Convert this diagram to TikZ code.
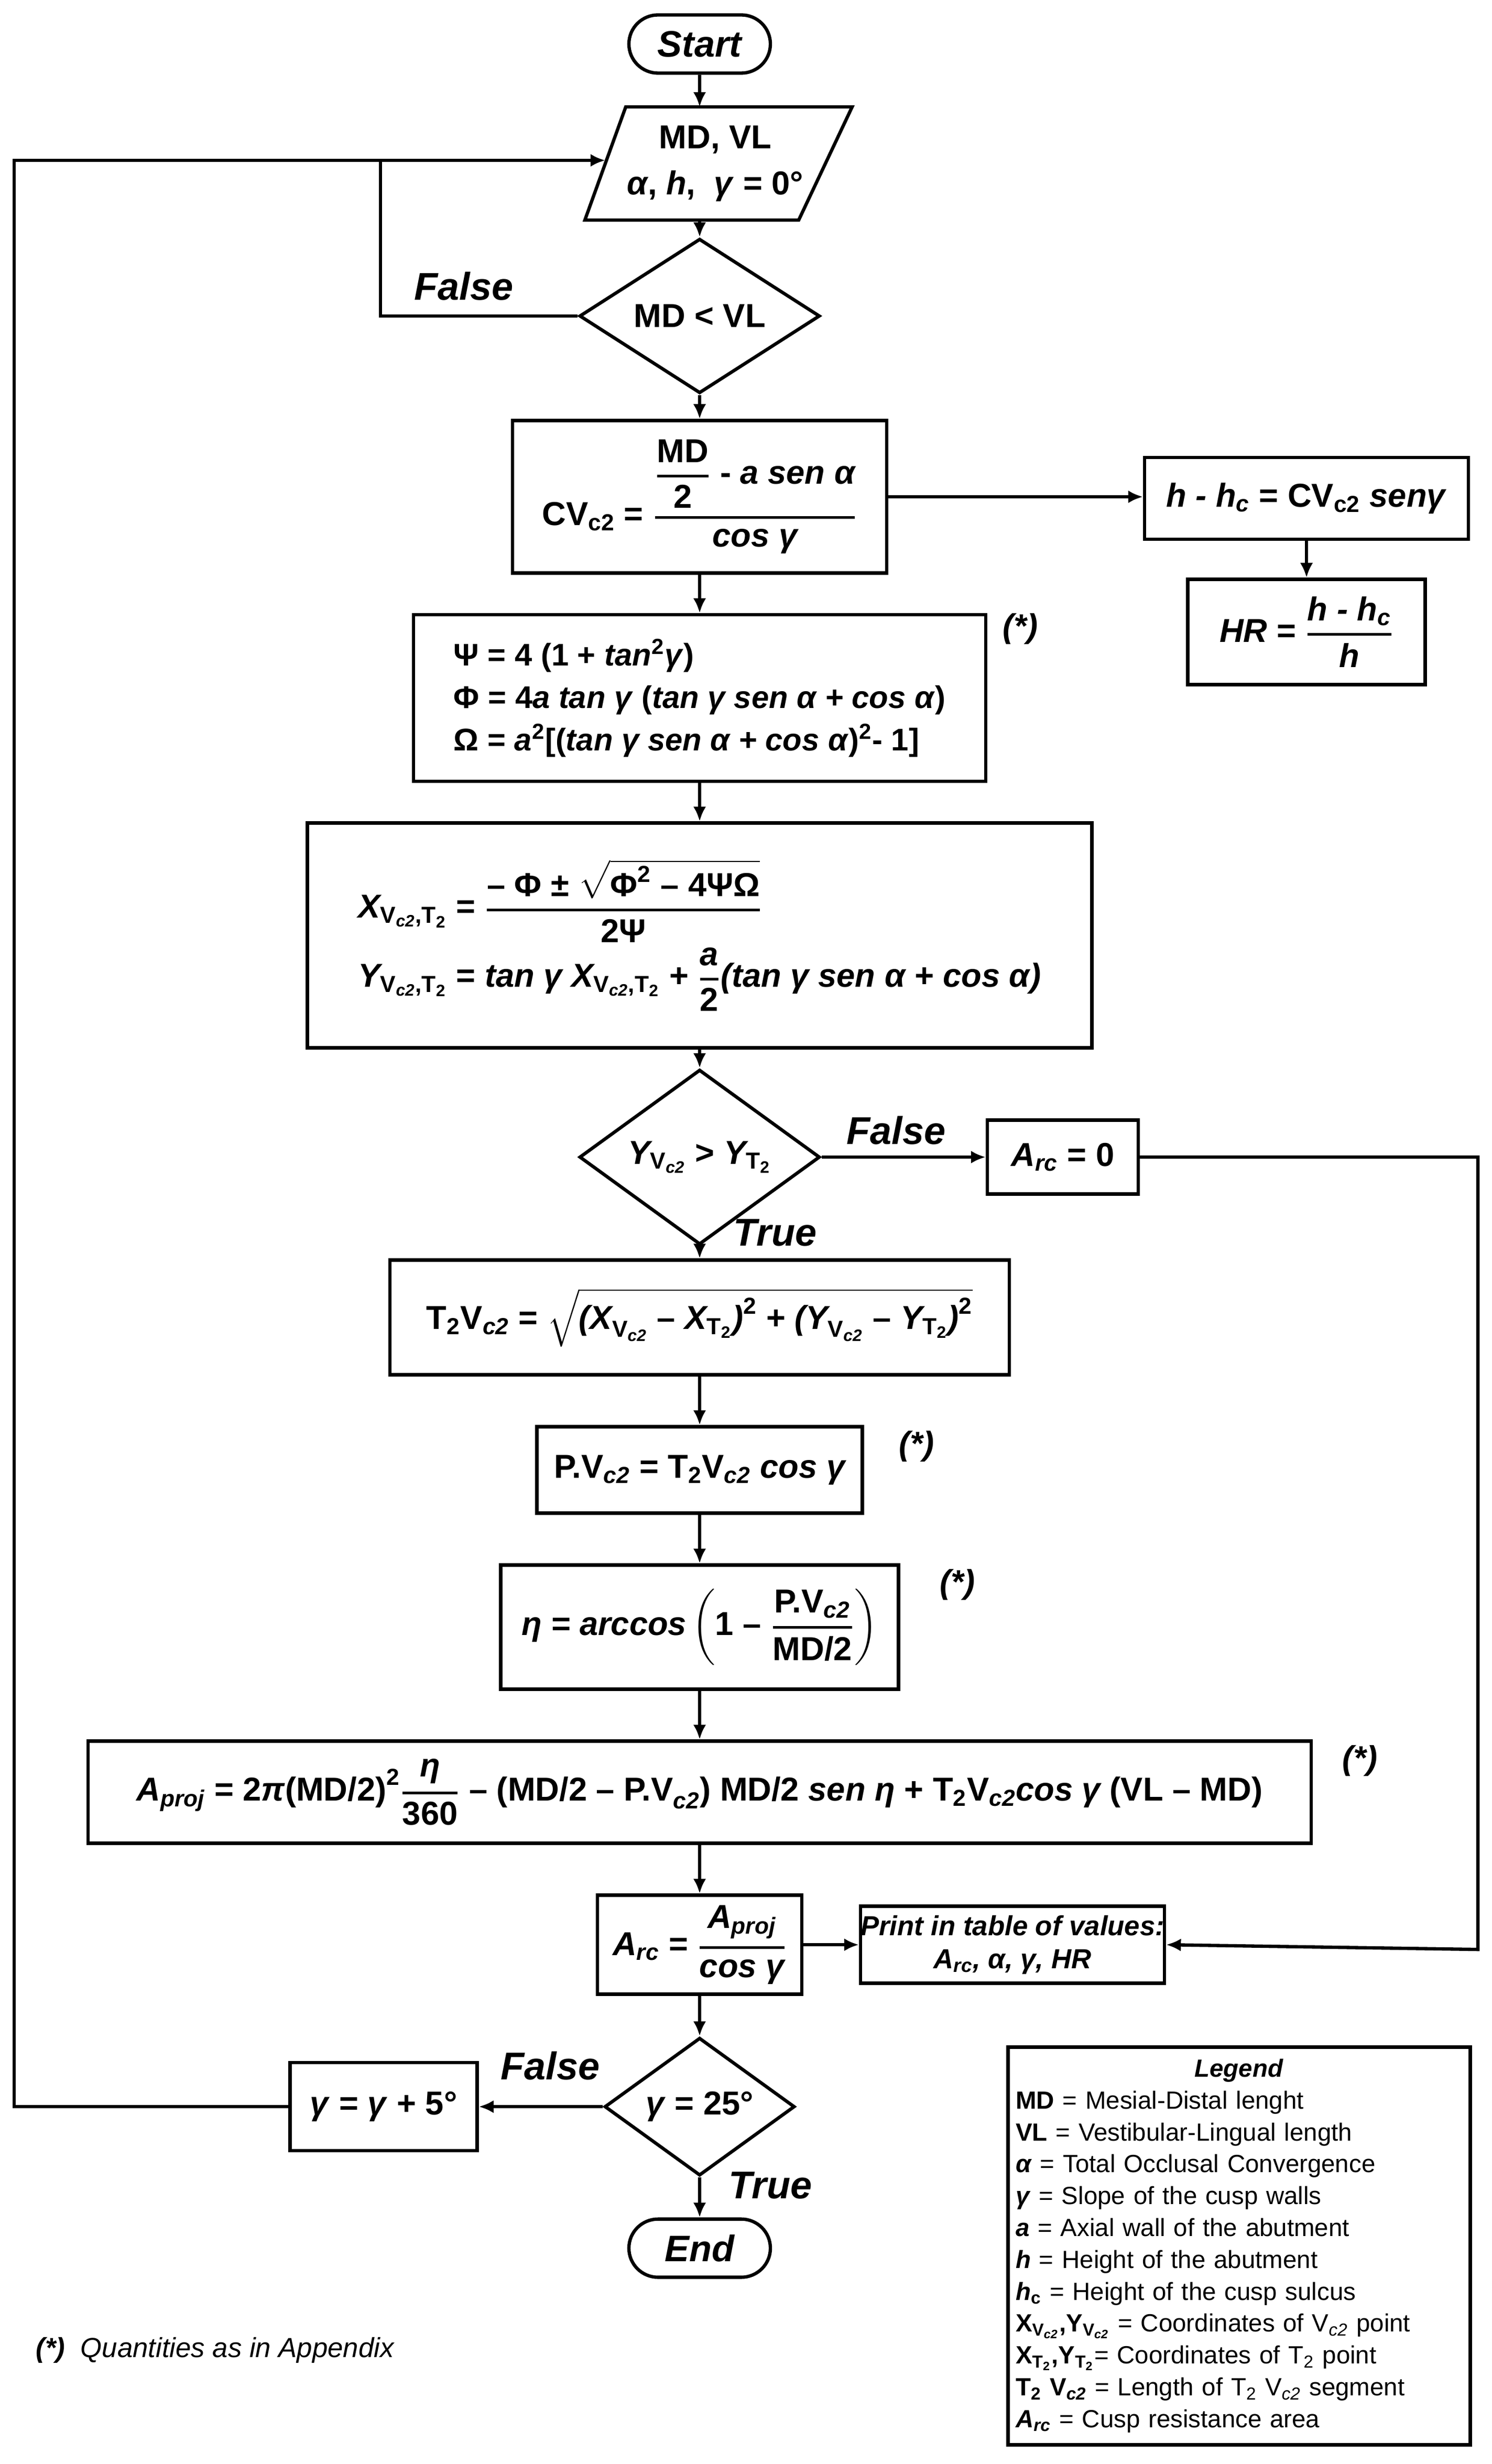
\documentclass[tikz,border=0pt]{standalone}
\usepackage{amsmath}
\usepackage{fontspec}
\setmainfont{Liberation Sans}
\usetikzlibrary{shapes.geometric,shapes.misc,arrows.meta}
\newcommand\tx[1]{\text{#1}}
\newcommand\ti[1]{\text{\itshape #1}}
\newcommand\fr[2]{\genfrac{}{}{1.4pt}{0}{#1}{#2}}
\newcommand\sV{_{\tx{V}_{\ti{c2}}}}
\newcommand\sT{_{\tx{T}_{\tx{2}}}}
\newcommand\sVT{_{\tx{V}_{\ti{c2}}\tx{,T}_{\tx{2}}}}
\begin{document}
\begin{tikzpicture}[x=0.03cm,y=-0.03cm,line width=1.8pt,
  >={Latex[length=8pt,width=7pt]},
  mainf/.style={font=\fontsize{18}{23}\selectfont\bfseries},
  bx/.style 2 args={mainf,rectangle,draw,minimum width=#1*0.03cm,minimum height=#2*0.03cm,inner sep=0pt},
  dm/.style 2 args={mainf,diamond,draw,minimum width=#1*0.03cm,minimum height=#2*0.03cm,inner sep=0pt},
  term/.style={mainf,rounded rectangle,draw,minimum width=90*0.03cm,minimum height=37*0.03cm,inner sep=0pt,font=\fontsize{20}{24}\selectfont\bfseries\itshape},
  lbl/.style={font=\fontsize{21}{24}\selectfont\bfseries\itshape},
  star/.style={font=\fontsize{18}{22}\selectfont\bfseries\itshape}]
\useasboundingbox (0,0) rectangle (948.67,1567.3);

\node[term] (start) at (445,28) {Start};
\node[mainf,align=center] (inp) at (455,104) {MD, VL\\[2pt]\textit{α}, \textit{h}, \ \textit{γ} = 0°};
\draw (398,68) -- (542,68) -- (508,140) -- (372,140) -- cycle;
\coordinate (inpT) at (445,68);
\coordinate (inpB) at (445,140);
\coordinate (inpL) at (385,102);
\node[dm={153}{83}] (d1) at (445,201) {MD < VL};
\node[bx={238}{97}] (cv) at (445,316) {$\tx{CV}_{\tx{c2}}\tx{ = }\fr{\fr{\tx{MD}}{\tx{2}}\tx{ - }\ti{a sen α}}{\ti{cos γ}}$};
\node[bx={206}{52}] (hh) at (831,317) {\textit{h - h}\textsubscript{\textit{c}} = CV\textsubscript{c2} \textit{senγ}};
\node[bx={151}{67}] (hr) at (831,402) {$\ti{HR}\tx{ = }\fr{\ti{h - h}_{\ti{c}}}{\ti{h}}$};
\node[bx={364}{106},align=left,font=\fontsize{17}{23}\selectfont\bfseries] (psi) at (445,444) {Ψ = 4 (1 + \textit{tan}\textsuperscript{2}\textit{γ})\\
Φ = 4\textit{a tan γ} (\textit{tan γ sen α + cos α})\\
Ω = \textit{a}\textsuperscript{2}[(\textit{tan γ sen α + cos α})\textsuperscript{2}- 1]};
\node[star] (s1) at (649,400) {(*)};
\node[bx={499}{143},align=left] (xy) at (445,595) {$\ti{X}\sVT\tx{ = }\fr{\tx{– Φ ± }\sqrt{\tx{Φ}^{\tx{2}}\tx{ – 4ΨΩ}}}{\tx{2Ψ}}$\\[2pt]
$\ti{Y}\sVT\tx{ = }\ti{tan γ }\ti{X}\sVT\tx{ + }\fr{\ti{a}}{\tx{2}}\ti{(tan γ sen α + cos α)}$};
\node[dm={153}{81}] (d2) at (445,736) {$\ti{Y}\sV\tx{ > }\ti{Y}\sT$};
\node[bx={96}{47}] (arc0) at (676,736) {$\ti{A}_{\ti{rc}}\tx{ = 0}$};
\node[bx={394}{73}] (t2v) at (445,838) {$\tx{T}_{\tx{2}}\tx{V}_{\ti{c2}}\tx{ = }\sqrt{\ti{(X}\sV\tx{ – }\ti{X}\sT\ti{)}^{\tx{2}}\tx{ + }\ti{(Y}\sV\tx{ – }\ti{Y}\sT\ti{)}^{\tx{2}}}$};
\node[bx={207}{55}] (pv) at (445,935) {$\tx{P.V}_{\ti{c2}}\tx{ = T}_{\tx{2}}\tx{V}_{\ti{c2}}\ti{ cos γ}$};
\node[star] (s2) at (583,920) {(*)};
\node[bx={253}{79}] (eta) at (445,1035) {$\ti{η = arccos}\left(\tx{1 – }\fr{\tx{P.V}_{\ti{c2}}}{\tx{MD/2}}\right)$};
\node[star] (s3) at (609,1008) {(*)};
\node[bx={778}{65}] (ap) at (445,1140) {$\ti{A}_{\ti{proj}}\tx{ = 2}\ti{π}\tx{(MD/2)}^{\tx{2}}\fr{\ti{η}}{\tx{360}}\tx{ – (MD/2 – P.V}_{\ti{c2}}\tx{) MD/2 }\ti{sen η}\tx{ + T}_{\tx{2}}\tx{V}_{\ti{c2}}\ti{cos γ}\tx{ (VL – MD)}$};
\node[star] (s4) at (865,1120) {(*)};
\node[bx={130}{63}] (arc) at (445,1237) {$\ti{A}_{\ti{rc}}\tx{ = }\fr{\ti{A}_{\ti{proj}}}{\ti{cos γ}}$};
\node[bx={189}{49},align=center,font=\fontsize{15}{18}\selectfont\bfseries] (pr) at (644,1237) {\textit{Print in table of values:}\\$\ti{A}_{\ti{rc}}\ti{, α, γ, HR}$};
\node[dm={121}{75}] (d3) at (445,1340) {\textit{γ} = 25°};
\node[bx={119}{56}] (gam) at (244,1340) {\textit{γ} = \textit{γ} + 5°};
\node[term] (end) at (445,1430) {End};

\node[lbl] (f1) at (295,182) {False};
\node[lbl] (f2) at (570,719) {False};
\node[lbl] (t2) at (493,784) {True};
\node[lbl] (f3) at (350,1314) {False};
\node[lbl] (t3) at (490,1390) {True};

\node[draw,line width=2pt,minimum width=294*0.03cm,minimum height=253*0.03cm,text width=284*0.03cm,align=left,inner sep=3pt,font=\fontsize{13.5}{17.3}\selectfont] (leg) at (788,1428.5) {\makebox[\linewidth]{\textbf{\textit{Legend}}}\\
\textbf{MD} = Mesial-Distal lenght\\
\textbf{VL} = Vestibular-Lingual length\\
\textbf{\textit{α}} = Total Occlusal Convergence\\
\textbf{\textit{γ}} = Slope of the cusp walls\\
\textbf{\textit{a}} = Axial wall of the abutment\\
\textbf{\textit{h}} = Height of the abutment\\
\textbf{\textit{h}\textsubscript{c}} = Height of the cusp sulcus\\
\textbf{X\textsubscript{V\textsubscript{\textit{c2}}},Y\textsubscript{V\textsubscript{\textit{c2}}}} = Coordinates of V\textsubscript{\textit{c2}} point\\
\textbf{X\textsubscript{T\textsubscript{2}},Y\textsubscript{T\textsubscript{2}}}= Coordinates of T\textsubscript{2} point\\
\textbf{T\textsubscript{2} V\textsubscript{\textit{c2}}} = Length of T\textsubscript{2} V\textsubscript{\textit{c2}} segment\\
\textbf{\textit{A}\textsubscript{\textit{rc}}} = Cusp resistance area};

\node[anchor=west,font=\fontsize{15}{18}\selectfont\itshape] (note) at (18,1495) {\textbf{(*)}\ \ Quantities as in Appendix};

\draw[->] (start) -- (inpT);
\draw[->] (inpB) -- (d1);
\draw[->] (d1) -- (cv);
\draw[->] (cv) -- (psi);
\draw[->] (psi) -- (xy);
\draw[->] (xy) -- (d2);
\draw[->] (d2) -- (t2v);
\draw[->] (t2v) -- (pv);
\draw[->] (pv) -- (eta);
\draw[->] (eta) -- (ap);
\draw[->] (ap) -- (arc);
\draw[->] (arc) -- (d3);
\draw[->] (d3) -- (end);
\draw[->] (cv.east) -- (cv.east -| hh.west);
\draw[->] (hh) -- (hr);
\draw[->] (d2) -- (arc0);
\draw[->] (arc0.east) -- (940,736) -- (940,1240) -- (pr.east);
\draw[->] (arc) -- (pr);
\draw[->] (d3) -- (gam);
\draw[->] (gam.west) -- (9,1340) -- (9,102) -- (inpL);
\draw (d1.west) -- (242,201) -- (242,102);
\end{tikzpicture}
\end{document}
